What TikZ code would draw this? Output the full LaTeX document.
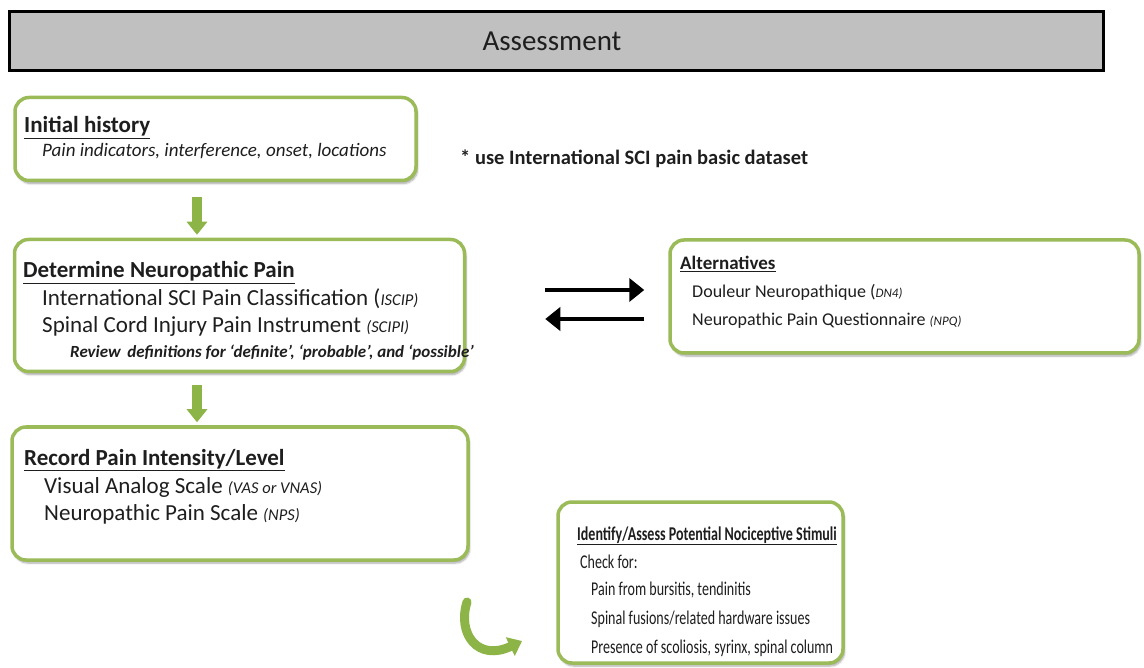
\documentclass[tikz,border=0pt]{standalone}
\usepackage{fontspec}
\setmainfont{Carlito}
\newfontfamily\narrowfont[FakeStretch=0.72]{Carlito}
\usetikzlibrary{arrows.meta,shadows.blur}
\definecolor{boxgreen}{RGB}{155,187,89}
\definecolor{arrowgreen}{RGB}{140,180,70}
\definecolor{titlegray}{RGB}{192,192,192}
\definecolor{ink}{RGB}{30,30,30}
\newcommand{\acr}[1]{{\fontsize{16.5}{18}\selectfont\itshape #1}}
\newcommand{\acrsm}[1]{{\fontsize{13}{15}\selectfont\itshape #1}}
\begin{document}
\begin{tikzpicture}[x=1pt,y=-1pt,
  gbox/.style={draw=boxgreen, line width=3.5pt, rounded corners=14pt, fill=white,
    blur shadow={shadow xshift=1.5pt, shadow yshift=-3pt, shadow opacity=35, shadow blur steps=6}},
  txt/.style={anchor=base west, inner sep=0pt, text=ink},
  head/.style={txt, font=\fontsize{23}{26}\selectfont\bfseries},
  body/.style={txt, font=\fontsize{23}{26}\selectfont},
  althead/.style={txt, font=\fontsize{19}{22}\selectfont\bfseries},
  altbody/.style={txt, font=\fontsize{18}{21}\selectfont},
  nbody/.style={txt, font=\fontsize{19.5}{22}\narrowfont},
  garrow/.style={draw=arrowgreen, line width=10pt, -{Triangle[width=20pt,length=13pt]}},
  karrow/.style={draw=black, line width=4.5pt, -{Triangle[width=23pt,length=15pt]}}]
\useasboundingbox (0,0) rectangle (1144,668);

% title bar
\node[draw=black, line width=3.2pt, fill=titlegray, minimum width=1094pt, minimum height=59pt,
  inner sep=0pt] (title) at (556.5,41) {};
\node[inner sep=0pt, font=\fontsize{29}{32}\selectfont, text=ink] (titleT) at (552,41) {Assessment};

% boxes
\node[gbox, minimum width=401pt, minimum height=83pt] (ini) at (215.5,139) {};
\node[gbox, minimum width=450pt, minimum height=132pt] (det) at (239.5,305.5) {};
\node[gbox, minimum width=469pt, minimum height=113pt] (alt) at (904.5,296.5) {};
\node[gbox, minimum width=456pt, minimum height=133pt] (rec) at (240,493.5) {};
\node[gbox, minimum width=285pt, minimum height=161pt] (ide) at (700.5,582.5) {};

% initial history
\node[head] (iniH) at (24,133) {\underline{Initial history}};
\node[txt, font=\fontsize{19}{21}\selectfont\itshape] (iniT) at (42,157) {Pain indicators, interference, onset, locations};
\node[txt, font=\fontsize{20.5}{23}\selectfont\bfseries] (note) at (460,165) {* use International SCI pain basic dataset};

% determine neuropathic pain
\node[head] (detH) at (23,278) {\underline{Determine Neuropathic Pain}};
\node[body] (detA) at (42,306) {International SCI Pain Classification (\acr{ISCIP)}};
\node[body] (detB) at (42,333) {Spinal Cord Injury Pain Instrument \acr{(SCIPI)}};
\node[txt, font=\fontsize{17}{19}\selectfont\bfseries\itshape] (detC) at (70,358) {Review\, definitions for `definite', `probable', and `possible'};

% alternatives
\node[althead] (altH) at (680,270) {\underline{Alternatives}};
\node[altbody] (altA) at (692,298) {Douleur Neuropathique (\acrsm{DN4)}};
\node[altbody] (altB) at (692,326) {Neuropathic Pain Questionnaire \acrsm{(NPQ)}};

% record pain intensity
\node[head] (recH) at (24,465) {\underline{Record Pain Intensity/Level}};
\node[body] (recA) at (44,493) {Visual Analog Scale \acr{(VAS or VNAS)}};
\node[body] (recB) at (44,520) {Neuropathic Pain Scale \acr{(NPS)}};

% nociceptive stimuli
\node[txt, font=\fontsize{19.5}{22}\narrowfont\bfseries] (ideH) at (577,540) {\underline{Identify/Assess Potential Nociceptive Stimuli}};
\node[nbody] (ideA) at (580,568) {Check for:};
\node[nbody] (ideB) at (591,595) {Pain from bursitis, tendinitis};
\node[nbody] (ideC) at (591,624) {Spinal fusions/related hardware issues};
\node[nbody] (ideD) at (591,653) {Presence of scoliosis, syrinx, spinal column};

% connectors
\coordinate (ax) at (197,0);
\draw[garrow, shorten <=15pt, shorten >=3pt] (ini.south -| ax) -- (det.north -| ax);
\draw[garrow, shorten <=12pt, shorten >=3pt] (det.south -| ax) -- (rec.north -| ax);

\coordinate (ya) at (0,290);
\coordinate (yb) at (0,319);
\draw[karrow, shorten <=79pt, shorten >=24pt] (det.east |- ya) -- (alt.west |- ya);
\draw[karrow, shorten <=24pt, shorten >=79pt] (alt.west |- yb) -- (det.east |- yb);

\coordinate (cstart) at (467,602);
\coordinate (cend) at (522,641);
\draw[garrow, line width=9pt, line cap=round] (cstart) .. controls (457,634) and (478,662) .. (cend);
\end{tikzpicture}
\end{document}
